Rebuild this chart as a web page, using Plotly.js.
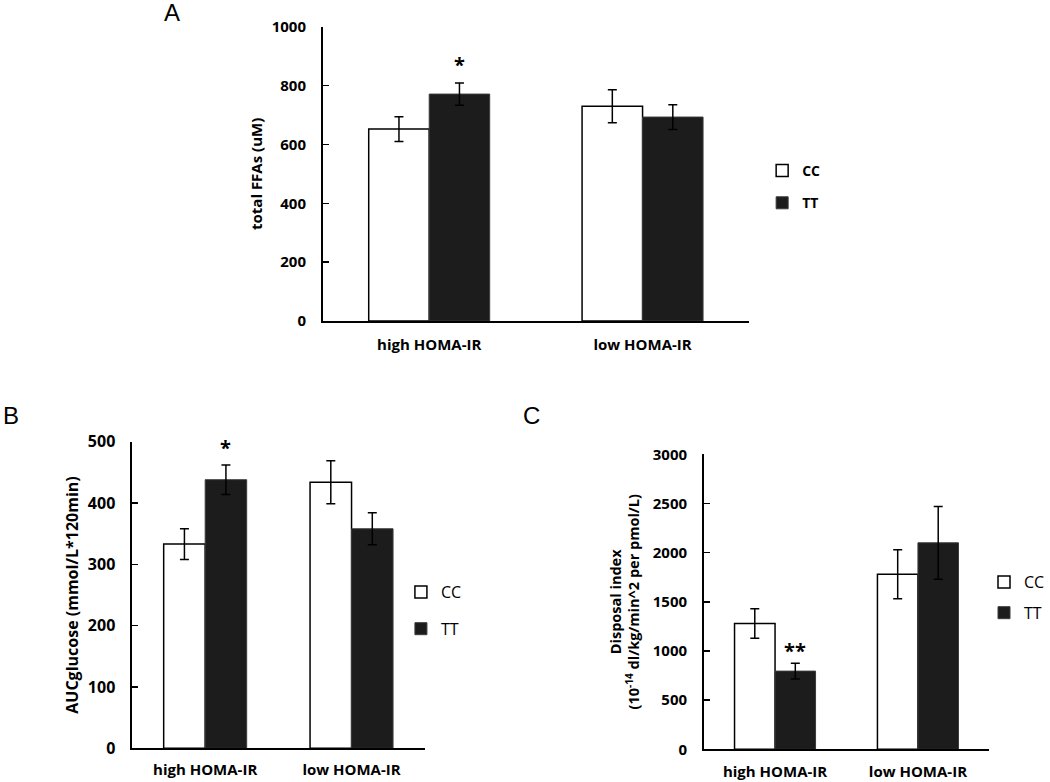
<!DOCTYPE html>
<html>
<head>
<meta charset="utf-8">
<script src="https://cdn.plot.ly/plotly-3.0.1.min.js"></script>
<style>html,body{margin:0;padding:0;background:#fff;}#chart{width:1050px;height:782px;}</style>
</head>
<body>
<div id="chart"></div>
<script>
// ---- data ----
const categories = ['high HOMA-IR', 'low HOMA-IR'];
const seriesNames = ['CC', 'TT'];

// Panel A: total FFAs (uM)
const ffaCC = [652, 730];
const ffaCCerr = [42, 56];
const ffaTT = [771, 693];
const ffaTTerr = [38, 42];

// Panel B: AUC glucose (mmol/L*120min)
const aucCC = [333, 434];
const aucCCerr = [25, 35];
const aucTT = [438, 358];
const aucTTerr = [24, 26];

// Panel C: Disposal index
const diCC = [1280, 1780];
const diCCerr = [150, 250];
const diTT = [795, 2100];
const diTTerr = [80, 370];

// significance marks (on TT, high HOMA-IR)
const sigA = '*';
const sigB = '*';
const sigC = '**';

// ---- styles ----
const W = 1050, H = 782;
const px = v => v / W;
const py = v => 1 - v / H;
const FONT = '"Open Sans", Lato, sans-serif';
const ccStyle = {color: '#ffffff', line: {color: '#000000', width: 1.5}};
const ttStyle = {color: '#1c1c1c', line: {color: '#3a3a3a', width: 1}};
const errStyle = (arr) => ({type: 'data', array: arr, visible: true, color: '#000', thickness: 1.5, width: 4.5});

function bar(name, y, err, style, xa, ya, lg) {
  return {
    type: 'bar', name: name, x: categories, y: y,
    error_y: errStyle(err), marker: style,
    xaxis: xa, yaxis: ya, legend: lg, legendgroup: lg + name,
    hoverinfo: 'skip'
  };
}

const data = [
  bar(seriesNames[0], ffaCC, ffaCCerr, ccStyle, 'x', 'y', 'legend'),
  bar(seriesNames[1], ffaTT, ffaTTerr, ttStyle, 'x', 'y', 'legend'),
  bar(seriesNames[0], aucCC, aucCCerr, ccStyle, 'x2', 'y2', 'legend2'),
  bar(seriesNames[1], aucTT, aucTTerr, ttStyle, 'x2', 'y2', 'legend2'),
  bar(seriesNames[0], diCC, diCCerr, ccStyle, 'x3', 'y3', 'legend3'),
  bar(seriesNames[1], diTT, diTTerr, ttStyle, 'x3', 'y3', 'legend3')
];

function xAx(domain, anchor, standoff) {
  return {
    domain: domain, anchor: anchor, type: 'category', range: [-0.5, 1.5],
    showline: true, linecolor: '#000', linewidth: 1.5, ticks: '',
    showgrid: false, zeroline: false, fixedrange: true,
    tickfont: {family: FONT, size: 15, color: '#000', weight: 'bold'},
    ticklabelstandoff: standoff
  };
}
function yAx(domain, anchor, range, dtick, title, titleSize, standoff, tickSize) {
  return {
    domain: domain, anchor: anchor, range: range, dtick: dtick,
    showline: true, linecolor: '#000', linewidth: 1.5,
    ticks: 'inside', ticklen: 6, tickwidth: 1.5, tickcolor: '#000',
    showgrid: false, zeroline: false, fixedrange: true,
    tickfont: {family: FONT, size: tickSize, color: '#000', weight: 'bold'},
    ticklabelstandoff: 12,
    title: {text: title, font: {family: FONT, size: titleSize, color: '#000', weight: 'bold'}, standoff: standoff},
    automargin: false
  };
}

const letterFont = {family: '"Liberation Sans", Arial, sans-serif', size: 24, color: '#000'};
const starFont = {family: FONT, size: 20, color: '#000', weight: 'bold'};
const TTpos = 0.142;

const layout = {
  width: W, height: H,
  margin: {l: 0, r: 0, t: 0, b: 0},
  paper_bgcolor: '#fff', plot_bgcolor: '#fff',
  barmode: 'group', bargap: 0.433, bargroupgap: 0,
  showlegend: true,
  xaxis: xAx([px(325), px(755)], 'y', 9),
  yaxis: yAx([py(321), py(26.7)], 'x', [0, 1000], 200, 'total FFAs (uM)', 15, 5, 15),
  xaxis2: xAx([px(133), px(428)], 'y2', 7),
  yaxis2: yAx([py(748.3), py(441.7)], 'x2', [0, 500], 100, 'AUCglucose (mmol/L*120min)', 16, 5, 16),
  xaxis3: xAx([px(709), px(997)], 'y3', 8),
  yaxis3: yAx([py(749.3), py(454.3)], 'x3', [0, 3000], 500,
    'Disposal index<br>(10<sup>-14</sup> dl/kg/min^2 per pmol/L)', 14.5, 9, 15),
  legend: {x: px(768), y: py(155), xanchor: 'left', yanchor: 'top', bgcolor: 'rgba(0,0,0,0)',
    font: {family: FONT, size: 14, color: '#000', weight: 'bold'}, tracegroupgap: 11},
  legend2: {x: px(404), y: py(575), xanchor: 'left', yanchor: 'top', bgcolor: 'rgba(0,0,0,0)',
    font: {family: FONT, size: 16, color: '#000'}, tracegroupgap: 13},
  legend3: {x: px(992), y: py(565), xanchor: 'left', yanchor: 'top', bgcolor: 'rgba(0,0,0,0)',
    font: {family: FONT, size: 16, color: '#000'}, tracegroupgap: 7},
  annotations: [
    {text: 'A', xref: 'paper', yref: 'paper', x: px(173), y: py(12), showarrow: false, font: letterFont, xanchor: 'center', yanchor: 'middle'},
    {text: 'B', xref: 'paper', yref: 'paper', x: px(11), y: py(415), showarrow: false, font: letterFont, xanchor: 'center', yanchor: 'middle'},
    {text: 'C', xref: 'paper', yref: 'paper', x: px(536), y: py(415), showarrow: false, font: letterFont, xanchor: 'center', yanchor: 'middle'},
    {text: sigA, xref: 'x', yref: 'y', x: TTpos, y: ffaTT[0] + ffaTTerr[0] + 62, showarrow: false, font: starFont, yanchor: 'middle'},
    {text: sigB, xref: 'x2', yref: 'y2', x: TTpos, y: aucTT[0] + aucTTerr[0] + 28, showarrow: false, font: starFont, yanchor: 'middle'},
    {text: sigC, xref: 'x3', yref: 'y3', x: TTpos, y: diTT[0] + diTTerr[0] + 125, showarrow: false, font: starFont, yanchor: 'middle'}
  ]
};

Plotly.newPlot('chart', data, layout, {displayModeBar: false, staticPlot: true});
</script>
</body>
</html>
